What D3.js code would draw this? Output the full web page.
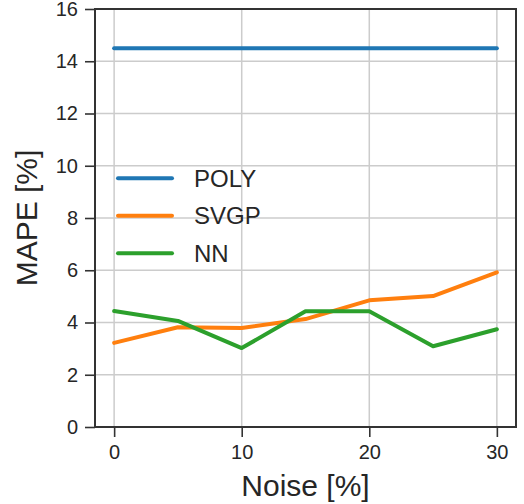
<!DOCTYPE html>
<html>
<head>
<meta charset="utf-8">
<script src="https://cdn.jsdelivr.net/npm/d3@7"></script>
<style>
  html, body { margin: 0; padding: 0; background: #fff; }
  svg { display: block; font-family: "Liberation Sans", Arial, sans-serif; }
</style>
</head>
<body>
<svg id="chart" width="524" height="504"></svg>
<script>
// Noise levels (%) on the x axis
const noise = [0, 5, 10, 15, 20, 25, 30];
// MAPE (%) per model
const poly = [14.5, 14.5, 14.5, 14.5, 14.5, 14.5, 14.5];
const svgp = [3.22, 3.82, 3.79, 4.13, 4.85, 5.01, 5.92];
const nn   = [4.44, 4.06, 3.02, 4.43, 4.43, 3.09, 3.74];

const seriesNames = ["POLY", "SVGP", "NN"];
const seriesColors = ["#1f77b4", "#ff7f0e", "#2ca02c"];
const xTicks = [0, 10, 20, 30];
const yTicks = [0, 2, 4, 6, 8, 10, 12, 14, 16];

const series = [poly, svgp, nn].map((vals, i) => ({
  name: seriesNames[i],
  color: seriesColors[i],
  points: noise.map((n, j) => ({ x: n, y: vals[j] }))
}));

const svg = d3.select("#chart");
const plotL = 95, plotR = 516, plotT = 9, plotB = 427;

const x = d3.scaleLinear().domain([-1.5, 31.5]).range([plotL, plotR]);
const y = d3.scaleLinear().domain([0, 16]).range([plotB, plotT]);

const textColor = "#262626";
const gridColor = "#cccccc";

// grid
const grid = svg.append("g");
grid.selectAll("line.gx").data(xTicks).join("line")
  .attr("class", "gx")
  .attr("x1", d => x(d)).attr("x2", d => x(d))
  .attr("y1", plotT).attr("y2", plotB)
  .attr("stroke", gridColor).attr("stroke-width", 1.5);
grid.selectAll("line.gy").data(yTicks).join("line")
  .attr("class", "gy")
  .attr("x1", plotL).attr("x2", plotR)
  .attr("y1", d => y(d)).attr("y2", d => y(d))
  .attr("stroke", gridColor).attr("stroke-width", 1.5);

// axes
const xAxis = d3.axisBottom(x).tickValues(xTicks).tickSize(10).tickPadding(8).tickFormat(d3.format("d"));
const yAxis = d3.axisLeft(y).tickValues(yTicks).tickSize(10).tickPadding(7).tickFormat(d3.format("d"));

const gx = svg.append("g").attr("transform", `translate(0,${plotB})`).call(xAxis);
const gy = svg.append("g").attr("transform", `translate(${plotL},0)`).call(yAxis);
[gx, gy].forEach(g => {
  g.select(".domain").remove();
  g.selectAll(".tick line").attr("stroke", "#333").attr("stroke-width", 1.6);
  g.selectAll(".tick text").attr("fill", textColor).style("font-size", "20px")
    .style("font-family", '"Liberation Sans", Arial, sans-serif');
});

// lines
const line = d3.line().x(d => x(d.x)).y(d => y(d.y));
svg.append("g").selectAll("path").data(series).join("path")
  .attr("d", d => line(d.points))
  .attr("fill", "none")
  .attr("stroke", d => d.color)
  .attr("stroke-width", 4)
  .attr("stroke-linecap", "round")
  .attr("stroke-linejoin", "round");

// frame
svg.append("rect")
  .attr("x", plotL).attr("y", plotT)
  .attr("width", plotR - plotL).attr("height", plotB - plotT)
  .attr("fill", "none").attr("stroke", "#333").attr("stroke-width", 2);

// legend
const legend = svg.append("g");
const lg = legend.selectAll("g").data(series).join("g")
  .attr("transform", (d, i) => `translate(0,${178.3 + i * 37.5})`);
lg.append("line")
  .attr("x1", 118).attr("x2", 172)
  .attr("stroke", d => d.color).attr("stroke-width", 4).attr("stroke-linecap", "round");
lg.append("text")
  .attr("x", 194).attr("y", 0).attr("dy", "0.36em")
  .attr("fill", textColor).style("font-size", "24px")
  .text(d => d.name);

// axis labels
svg.append("text")
  .attr("x", (plotL + plotR) / 2).attr("y", 496)
  .attr("text-anchor", "middle").attr("fill", textColor)
  .style("font-size", "30px").text("Noise [%]");
svg.append("text")
  .attr("transform", `translate(37,${(plotT + plotB) / 2}) rotate(-90)`)
  .attr("text-anchor", "middle").attr("fill", textColor)
  .style("font-size", "30px").text("MAPE [%]");
</script>
</body>
</html>
